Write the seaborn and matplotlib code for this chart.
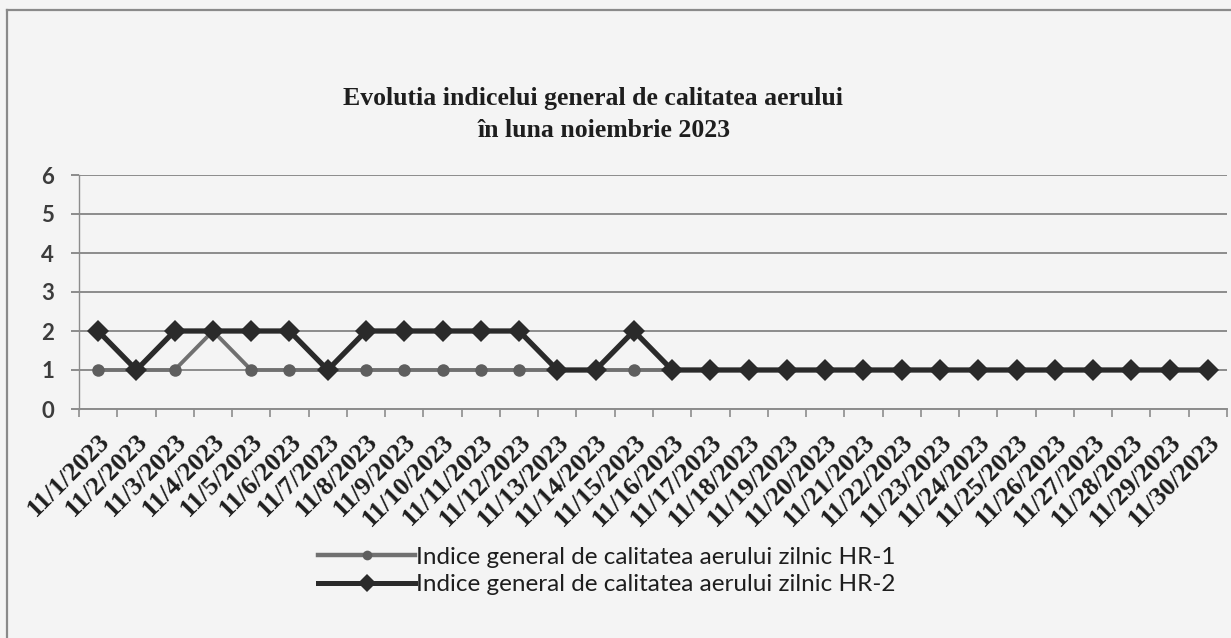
import numpy as np
import pandas as pd
import matplotlib.pyplot as plt
import seaborn as sns
from matplotlib.lines import Line2D

# daily air quality index, November 2023
day_labels = [
    "11/1/2023", "11/2/2023", "11/3/2023", "11/4/2023", "11/5/2023",
    "11/6/2023", "11/7/2023", "11/8/2023", "11/9/2023", "11/10/2023",
    "11/11/2023", "11/12/2023", "11/13/2023", "11/14/2023", "11/15/2023",
    "11/16/2023", "11/17/2023", "11/18/2023", "11/19/2023", "11/20/2023",
    "11/21/2023", "11/22/2023", "11/23/2023", "11/24/2023", "11/25/2023",
    "11/26/2023", "11/27/2023", "11/28/2023", "11/29/2023", "11/30/2023",
]
hr1 = [1, 1, 1, 2, 1, 1, 1, 1, 1, 1, 1, 1, 1, 1, 1,
       1, 1, 1, 1, 1, 1, 1, 1, 1, 1, 1, 1, 1, 1, 1]
hr2 = [2, 1, 2, 2, 2, 2, 1, 2, 2, 2, 2, 2, 1, 1, 2,
       1, 1, 1, 1, 1, 1, 1, 1, 1, 1, 1, 1, 1, 1, 1]
series_names = [
    "Indice general de calitatea aerului zilnic HR-1",
    "Indice general de calitatea aerului zilnic HR-2",
]
y_ticks = [0, 1, 2, 3, 4, 5, 6]

df = pd.DataFrame({"zi": np.arange(len(day_labels)), "HR-1": hr1, "HR-2": hr2})

W, H = 1231, 638
bg = "#f4f4f4"
grid_c = "#8c8c8c"
c1, c2 = "#707070", "#2a2a2a"

fig = plt.figure(figsize=(W / 100, H / 100), dpi=100, facecolor=bg)
ax = fig.add_axes([79 / W, 1 - 409 / H, (1227 - 79) / W, (409 - 175) / H])
ax.set_facecolor(bg)

sns.lineplot(data=df, x="zi", y="HR-1", ax=ax, color=c1, linewidth=2.8,
             marker="o", markersize=9, markeredgewidth=0, markerfacecolor="#5e5e5e",
             zorder=3)
sns.lineplot(data=df, x="zi", y="HR-2", ax=ax, color=c2, linewidth=3.8,
             marker="D", markersize=11, markeredgewidth=0, markerfacecolor=c2,
             zorder=4)

ax.set_xlim(-0.5, len(day_labels) - 0.5)
ax.set_ylim(0, 6)
ax.set_xlabel("")
ax.set_ylabel("")

# y axis: gridlines + ticks sticking out to the left
ax.set_yticks(y_ticks)
ax.set_yticklabels([str(v) for v in y_ticks], fontsize=16, fontweight="bold",
                   family="Lato", color="#3c3c3c")
ax.tick_params(axis="y", length=6, width=1.4, color=grid_c, pad=12)
ax.grid(axis="y", color=grid_c, linewidth=1.4)
ax.grid(axis="x", visible=False)

# x axis: labels at centers, tick marks at category boundaries
ax.set_xticks(np.arange(len(day_labels)))
ax.set_xticklabels(day_labels, rotation=45, ha="right", rotation_mode="anchor",
                   fontsize=19, fontweight="bold", family="Liberation Serif",
                   color="#1e1e1e")
ax.tick_params(axis="x", length=0, pad=15)
ax.set_xticks(np.arange(len(day_labels) + 1) - 0.5, minor=True)
ax.tick_params(axis="x", which="minor", length=6, width=1.2, color=grid_c)

for s in ["top", "right"]:
    ax.spines[s].set_visible(False)
ax.spines["left"].set_color(grid_c)
ax.spines["left"].set_linewidth(1.0)
ax.spines["bottom"].set_color(grid_c)
ax.spines["bottom"].set_linewidth(1.4)

# chart frame
fig.add_artist(Line2D([7 / W, 1], [1 - 10 / H, 1 - 10 / H], color="#8a8a8a", lw=1.6))
fig.add_artist(Line2D([7 / W, 7 / W], [0, 1 - 10 / H], color="#8a8a8a", lw=1.6))

# title
fig.text(593 / W, 1 - 99 / H, "Evolutia indicelui general de calitatea aerului",
         ha="center", va="center", fontsize=18.5, fontweight="bold",
         family="Liberation Serif", color="#1e1e1e")
fig.text(604 / W, 1 - 130 / H, "în luna noiembrie 2023",
         ha="center", va="center", fontsize=18.5, fontweight="bold",
         family="Liberation Serif", color="#1e1e1e")

handles = [
    Line2D([], [], color=c1, lw=3.2, marker="o", markersize=7,
           markeredgewidth=0, markerfacecolor="#5e5e5e"),
    Line2D([], [], color=c2, lw=3.6, marker="D", markersize=9,
           markeredgewidth=0, markerfacecolor=c2),
]
leg = fig.legend(handles, series_names, loc="center left",
                 bbox_to_anchor=(318 / W, 1 - 571 / H), frameon=False,
                 prop={"family": "Lato", "size": 17.5}, handlelength=4.0,
                 handletextpad=0.05, labelspacing=0.25, borderpad=0, borderaxespad=0)
for t in leg.get_texts():
    t.set_color("#1e1e1e")

fig.savefig("out.png", dpi=100, facecolor=bg)
